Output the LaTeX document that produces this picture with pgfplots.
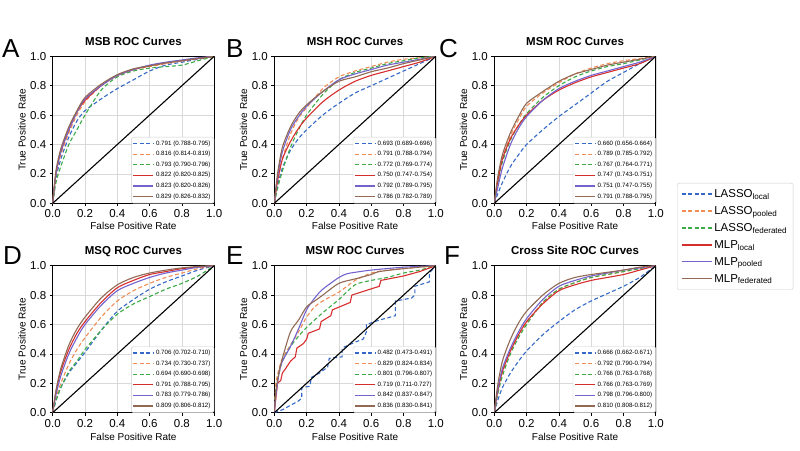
\documentclass[border=0pt]{standalone}
\usepackage{fontspec}
\setmainfont{Liberation Sans}
\usepackage{pgfplots}
\usepackage{pgfplotstable}
\pgfplotsset{compat=1.18}

\definecolor{cb}{RGB}{52,105,200}
\definecolor{co}{RGB}{241,140,85}
\definecolor{cg}{RGB}{60,170,70}
\definecolor{cr}{RGB}{214,45,45}
\definecolor{cp}{RGB}{115,100,205}
\definecolor{cn}{RGB}{145,105,85}

% columns: fpr, LASSO local/pooled/federated, MLP local/pooled/federated
\pgfplotstableread{
fpr lb lp lf ml mp mf
0 0 0 0 0 0 0
0.02 0.17 0.2 0.14 0.2 0.2 0.22
0.05 0.3 0.33 0.25 0.35 0.35 0.37
0.1 0.45 0.48 0.4 0.5 0.5 0.52
0.15 0.56 0.6 0.5 0.62 0.62 0.63
0.2 0.63 0.69 0.6 0.7 0.71 0.72
0.3 0.71 0.8 0.77 0.8 0.8 0.81
0.4 0.78 0.87 0.86 0.87 0.87 0.875
0.5 0.84 0.91 0.9 0.91 0.91 0.915
0.6 0.9 0.93 0.92 0.935 0.94 0.935
0.7 0.94 0.95 0.93 0.955 0.96 0.955
0.8 0.96 0.97 0.94 0.97 0.975 0.97
0.9 0.98 0.985 0.97 0.985 0.99 0.985
1 1 1 1 1 1 1
}\tabA
\pgfplotstableread{
fpr lb lp lf ml mp mf
0 0 0 0 0 0 0
0.02 0.12 0.15 0.1 0.15 0.18 0.2
0.05 0.24 0.3 0.22 0.3 0.35 0.38
0.1 0.36 0.47 0.38 0.42 0.5 0.52
0.15 0.44 0.58 0.5 0.51 0.59 0.61
0.2 0.5 0.65 0.6 0.58 0.66 0.67
0.3 0.6 0.78 0.74 0.69 0.76 0.76
0.4 0.68 0.86 0.84 0.77 0.84 0.83
0.5 0.75 0.9 0.89 0.83 0.88 0.86
0.6 0.8 0.93 0.92 0.87 0.91 0.895
0.7 0.85 0.96 0.95 0.9 0.94 0.92
0.8 0.9 0.98 0.97 0.93 0.96 0.95
0.9 0.95 0.99 0.99 0.96 0.98 0.975
1 1 1 1 1 1 1
}\tabB
\pgfplotstableread{
fpr lb lp lf ml mp mf
0 0 0 0 0 0 0
0.02 0.06 0.15 0.13 0.14 0.1 0.17
0.05 0.14 0.3 0.28 0.3 0.24 0.33
0.1 0.25 0.46 0.43 0.44 0.4 0.48
0.15 0.33 0.57 0.53 0.53 0.51 0.59
0.2 0.4 0.66 0.61 0.6 0.59 0.68
0.3 0.5 0.75 0.72 0.7 0.7 0.76
0.4 0.59 0.82 0.8 0.77 0.78 0.83
0.5 0.67 0.88 0.86 0.82 0.83 0.88
0.6 0.75 0.92 0.9 0.86 0.87 0.91
0.7 0.83 0.95 0.93 0.89 0.9 0.94
0.8 0.89 0.97 0.95 0.92 0.93 0.96
0.9 0.95 0.985 0.975 0.95 0.96 0.98
1 1 1 1 1 1 1
}\tabC
\pgfplotstableread{
fpr lb lp lf ml mp mf
0 0 0 0 0 0 0
0.02 0.08 0.1 0.08 0.14 0.12 0.15
0.05 0.17 0.2 0.17 0.28 0.25 0.3
0.1 0.27 0.33 0.28 0.43 0.4 0.46
0.15 0.34 0.43 0.35 0.54 0.51 0.57
0.2 0.41 0.51 0.43 0.62 0.6 0.65
0.3 0.56 0.65 0.56 0.75 0.73 0.78
0.4 0.69 0.76 0.67 0.85 0.83 0.87
0.5 0.77 0.83 0.74 0.9 0.88 0.92
0.6 0.84 0.88 0.79 0.94 0.92 0.95
0.7 0.89 0.92 0.84 0.96 0.95 0.97
0.8 0.93 0.95 0.88 0.98 0.97 0.985
0.9 0.97 0.98 0.93 0.99 0.99 0.995
1 1 1 1 1 1 1
}\tabD
\pgfplotstableread{
fpr lb lp lf ml mp mf
0 0 0 0 0 0 0
0.02 0.08 0.13 0.12 0.14 0.15 0.18
0.05 0.17 0.27 0.25 0.28 0.3 0.35
0.1 0.27 0.42 0.4 0.42 0.44 0.5
0.15 0.35 0.53 0.51 0.53 0.55 0.61
0.2 0.42 0.61 0.6 0.62 0.64 0.69
0.3 0.53 0.75 0.75 0.74 0.77 0.8
0.4 0.62 0.84 0.84 0.83 0.86 0.88
0.5 0.7 0.885 0.885 0.87 0.9 0.92
0.6 0.76 0.92 0.92 0.9 0.93 0.94
0.7 0.81 0.94 0.94 0.92 0.95 0.955
0.8 0.86 0.96 0.96 0.94 0.97 0.97
0.9 0.92 0.98 0.98 0.97 0.985 0.99
1 1 1 1 1 1 1
}\tabF

\tikzset{
  lb/.style={draw=cb, line width=1.1pt, dash pattern=on 4pt off 2.5pt},
  lp/.style={draw=co, line width=1.1pt, dash pattern=on 4pt off 2.5pt},
  lf/.style={draw=cg, line width=1.1pt, dash pattern=on 4pt off 2.5pt},
  ml/.style={draw=cr, line width=1.1pt, solid},
  mp/.style={draw=cp, line width=1.1pt, solid},
  mf/.style={draw=cn, line width=1.1pt, solid},
}

\pgfplotsset{
  /pgf/number format/assume math mode=true,
  rocax/.style={
    width=161.5pt, height=147pt, scale only axis,
    xmin=0, xmax=1, ymin=0, ymax=1,
    xtick={0,0.2,0.4,0.6,0.8,1}, ytick={0,0.2,0.4,0.6,0.8,1},
    xticklabel style={/pgf/number format/.cd, fixed, fixed zerofill, precision=1},
    yticklabel style={/pgf/number format/.cd, fixed, fixed zerofill, precision=1},
    tick pos=left, tick align=outside, major tick length=3pt,
    every tick/.style={black, line width=0.8pt},
    grid=major, major grid style={gray!30, line width=0.6pt},
    axis line style={black, line width=0.9pt},
    tick label style={font=\fontsize{11.5}{13}\selectfont},
    label style={font=\fontsize{10}{12}\selectfont},
    title style={font=\bfseries\fontsize{11.5}{13}\selectfont, at={(0.5,1)}, anchor=base, yshift=5pt, inner sep=0pt},
    xlabel={False Positive Rate}, ylabel={True Positive Rate},
    xlabel style={at={(axis description cs:0.5,-0.155)}, anchor=center},
    ylabel style={at={(axis description cs:-0.19,0.5)}, anchor=center},
    legend style={at={(1,0)}, anchor=south east, font=\fontsize{6.2}{7}\selectfont,
      draw=gray!40, rounded corners=1.5pt, inner sep=1.5pt, row sep=0.6pt,
      cells={anchor=west}, fill=white},
    legend image code/.code={\draw[##1] (0pt,0pt) -- (20pt,0pt);},
    smooth, tension=0.45,
  },
}

\begin{document}
\begin{tikzpicture}
\path[use as bounding box] (0,0) rectangle (800pt,450pt);

% A
\begin{axis}[rocax, at={(52.7pt,246.7pt)}, anchor=south west, title={MSB ROC Curves}]
\addplot[lb] table[x=fpr,y=lb]{\tabA}; \addlegendentry{0.791 (0.788-0.795)}
\addplot[lp] table[x=fpr,y=lp]{\tabA}; \addlegendentry{0.816 (0.814-0.819)}
\addplot[lf] table[x=fpr,y=lf]{\tabA}; \addlegendentry{0.793 (0.790-0.796)}
\addplot[ml] table[x=fpr,y=ml]{\tabA}; \addlegendentry{0.822 (0.820-0.825)}
\addplot[mp] table[x=fpr,y=mp]{\tabA}; \addlegendentry{0.823 (0.820-0.826)}
\addplot[mf] table[x=fpr,y=mf]{\tabA}; \addlegendentry{0.829 (0.826-0.832)}
\addplot[black, line width=1.1pt, sharp plot, forget plot] coordinates {(0,0) (1,1)};
\end{axis}

% B
\begin{axis}[rocax, at={(274.3pt,246.7pt)}, anchor=south west, title={MSH ROC Curves}]
\addplot[lb] table[x=fpr,y=lb]{\tabB}; \addlegendentry{0.693 (0.689-0.696)}
\addplot[lp] table[x=fpr,y=lp]{\tabB}; \addlegendentry{0.791 (0.788-0.794)}
\addplot[lf] table[x=fpr,y=lf]{\tabB}; \addlegendentry{0.772 (0.769-0.774)}
\addplot[ml] table[x=fpr,y=ml]{\tabB}; \addlegendentry{0.750 (0.747-0.754)}
\addplot[mp] table[x=fpr,y=mp]{\tabB}; \addlegendentry{0.792 (0.789-0.795)}
\addplot[mf] table[x=fpr,y=mf]{\tabB}; \addlegendentry{0.786 (0.782-0.789)}
\addplot[black, line width=1.1pt, sharp plot, forget plot] coordinates {(0,0) (1,1)};
\end{axis}

% C
\begin{axis}[rocax, at={(494.3pt,246.7pt)}, anchor=south west, title={MSM ROC Curves}]
\addplot[lb] table[x=fpr,y=lb]{\tabC}; \addlegendentry{0.660 (0.656-0.664)}
\addplot[lp] table[x=fpr,y=lp]{\tabC}; \addlegendentry{0.789 (0.785-0.792)}
\addplot[lf] table[x=fpr,y=lf]{\tabC}; \addlegendentry{0.767 (0.764-0.771)}
\addplot[ml] table[x=fpr,y=ml]{\tabC}; \addlegendentry{0.747 (0.743-0.751)}
\addplot[mp] table[x=fpr,y=mp]{\tabC}; \addlegendentry{0.751 (0.747-0.755)}
\addplot[mf] table[x=fpr,y=mf]{\tabC}; \addlegendentry{0.791 (0.788-0.795)}
\addplot[black, line width=1.1pt, sharp plot, forget plot] coordinates {(0,0) (1,1)};
\end{axis}

% D
\begin{axis}[rocax, at={(52.7pt,37.3pt)}, anchor=south west, title={MSQ ROC Curves},
  xlabel style={at={(axis description cs:0.5,-0.165)}}]
\addplot[lb] table[x=fpr,y=lb]{\tabD}; \addlegendentry{0.706 (0.702-0.710)}
\addplot[lp] table[x=fpr,y=lp]{\tabD}; \addlegendentry{0.734 (0.730-0.737)}
\addplot[lf] table[x=fpr,y=lf]{\tabD}; \addlegendentry{0.694 (0.690-0.698)}
\addplot[ml] table[x=fpr,y=ml]{\tabD}; \addlegendentry{0.791 (0.788-0.795)}
\addplot[mp] table[x=fpr,y=mp]{\tabD}; \addlegendentry{0.783 (0.779-0.786)}
\addplot[mf] table[x=fpr,y=mf]{\tabD}; \addlegendentry{0.809 (0.806-0.812)}
\addplot[black, line width=1.1pt, sharp plot, forget plot] coordinates {(0,0) (1,1)};
\end{axis}

% E
\begin{axis}[rocax, at={(274.3pt,37.3pt)}, anchor=south west, title={MSW ROC Curves},
  xlabel style={at={(axis description cs:0.5,-0.165)}}]
\addplot[lb, sharp plot] coordinates {(0,0) (0.05,0.02) (0.15,0.08) (0.17,0.1) (0.17,0.17)
  (0.22,0.18) (0.23,0.24) (0.28,0.27) (0.33,0.31) (0.34,0.37) (0.42,0.38) (0.42,0.44)
  (0.5,0.48) (0.55,0.5) (0.57,0.55) (0.57,0.6) (0.65,0.63) (0.75,0.66) (0.75,0.76)
  (0.85,0.78) (0.87,0.8) (0.87,0.86) (0.96,0.89) (0.96,0.95) (1,1)};
\addlegendentry{0.482 (0.473-0.491)}
\addplot[lp] coordinates {(0,0) (0.01,0.2) (0.03,0.3) (0.05,0.37) (0.1,0.46) (0.15,0.55)
  (0.2,0.65) (0.25,0.72) (0.3,0.76) (0.4,0.82) (0.45,0.86) (0.5,0.9) (0.6,0.95) (0.7,0.97)
  (0.8,0.98) (0.9,0.99) (1,1)};
\addlegendentry{0.829 (0.824-0.834)}
\addplot[lf] coordinates {(0,0) (0.01,0.15) (0.03,0.27) (0.05,0.35) (0.1,0.45) (0.15,0.52)
  (0.2,0.58) (0.3,0.68) (0.4,0.77) (0.5,0.87) (0.6,0.9) (0.7,0.92) (0.8,0.95) (0.9,0.97) (1,1)};
\addlegendentry{0.801 (0.796-0.807)}
\addplot[ml, sharp plot] coordinates {(0,0) (0.01,0.1) (0.02,0.2) (0.04,0.22) (0.05,0.27)
  (0.07,0.3) (0.1,0.35) (0.13,0.38) (0.14,0.44) (0.18,0.47) (0.2,0.5) (0.21,0.54)
  (0.28,0.57) (0.29,0.62) (0.35,0.66) (0.36,0.7) (0.47,0.75) (0.48,0.8) (0.65,0.86)
  (0.66,0.9) (0.8,0.93) (0.9,0.96) (1,1)};
\addlegendentry{0.719 (0.711-0.727)}
\addplot[mp] coordinates {(0,0) (0.01,0.12) (0.03,0.27) (0.05,0.35) (0.1,0.45) (0.15,0.57)
  (0.2,0.7) (0.25,0.78) (0.3,0.84) (0.4,0.92) (0.45,0.945) (0.5,0.955) (0.6,0.97) (0.8,0.99) (1,1)};
\addlegendentry{0.842 (0.837-0.847)}
\addplot[mf] coordinates {(0,0) (0.01,0.15) (0.03,0.28) (0.05,0.37) (0.1,0.55) (0.15,0.63)
  (0.2,0.72) (0.25,0.76) (0.3,0.8) (0.4,0.88) (0.5,0.91) (0.6,0.94) (0.65,0.96) (0.8,0.98) (1,1)};
\addlegendentry{0.836 (0.830-0.841)}
\addplot[black, line width=1.1pt, sharp plot, forget plot] coordinates {(0,0) (1,1)};
\end{axis}

% F
\begin{axis}[rocax, at={(494.3pt,37.3pt)}, anchor=south west, title={Cross Site ROC Curves},
  xlabel style={at={(axis description cs:0.5,-0.165)}}]
\addplot[lb] table[x=fpr,y=lb]{\tabF}; \addlegendentry{0.666 (0.662-0.671)}
\addplot[lp] table[x=fpr,y=lp]{\tabF}; \addlegendentry{0.792 (0.790-0.794)}
\addplot[lf] table[x=fpr,y=lf]{\tabF}; \addlegendentry{0.766 (0.763-0.768)}
\addplot[ml] table[x=fpr,y=ml]{\tabF}; \addlegendentry{0.766 (0.763-0.769)}
\addplot[mp] table[x=fpr,y=mp]{\tabF}; \addlegendentry{0.798 (0.796-0.800)}
\addplot[mf] table[x=fpr,y=mf]{\tabF}; \addlegendentry{0.810 (0.808-0.812)}
\addplot[black, line width=1.1pt, sharp plot, forget plot] coordinates {(0,0) (1,1)};
\end{axis}

% shared legend
\begin{axis}[at={(677pt,159pt)}, anchor=south west, width=111pt, height=108pt,
  scale only axis, hide axis, xmin=0, xmax=1, ymin=0, ymax=1,
  legend style={at={(0,1)}, anchor=north west, font=\fontsize{11.5}{13}\selectfont,
    draw=gray!40, rounded corners=2pt, row sep=3.5pt, inner xsep=4pt, inner ysep=4pt,
    cells={anchor=west}},
  legend image code/.code={\draw[#1] (0pt,0pt) -- (24pt,0pt); \path (0pt,0pt) -- (30pt,0pt);}]
\addlegendimage{lb} \addlegendentry{LASSO\textsubscript{local}}
\addlegendimage{lp} \addlegendentry{LASSO\textsubscript{pooled}}
\addlegendimage{lf} \addlegendentry{LASSO\textsubscript{federated}}
\addlegendimage{ml} \addlegendentry{MLP\textsubscript{local}}
\addlegendimage{mp} \addlegendentry{MLP\textsubscript{pooled}}
\addlegendimage{mf} \addlegendentry{MLP\textsubscript{federated}}
\end{axis}

% panel letters
\begin{scope}[every node/.style={anchor=base west, font=\fontsize{26}{28}\selectfont, inner sep=0pt}]
\node at (2pt,392pt) {A};
\node at (226pt,392pt) {B};
\node at (439pt,392pt) {C};
\node at (3pt,185pt) {D};
\node at (226pt,185pt) {E};
\node at (444pt,185pt) {F};
\end{scope}
\end{tikzpicture}
\end{document}
